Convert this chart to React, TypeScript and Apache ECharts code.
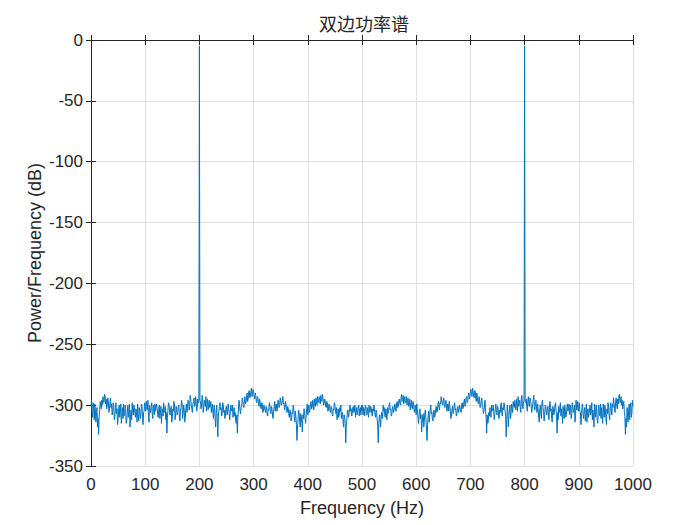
import React, { useEffect, useRef } from "react";
import * as echarts from "echarts";

const title = "双边功率谱";
const xName = "Frequency (Hz)";
const yName = "Power/Frequency (dB)";
const xTicks = { min: 0, max: 1000, step: 100 };
const yTicks = { min: -350, max: 0, step: 50 };

// one-sided half, 0..500 Hz: values at even Hz (0,2,...,500) and odd Hz (1,3,...,499)
const evenPower = [
  -301, -306, -298, -312, -304, -309, -318, -324, -305, -300,
  -296, -293, -298, -292, -295, -300, -297, -303, -294, -299,
  -305, -301, -309, -298, -303, -311, -300, -306, -315, -302,
  -299, -307, -303, -312, -300, -305, -318, -304, -298, -308,
  -302, -310, -306, -299, -313, -304, -308, -300, -316, -305,
  -301, -297, -304, -309, -300, -306, -298, -311, -303, -299,
  -305, -302, -310, -300, -307, -315, -303, -298, -306, -312,
  -323, -304, -300, -308, -301, -311, -305, -299, -309, -303,
  -306, -300, -313, -302, -298, -307, -304, -310, -299, -303,
  -297, -301, -295, -303, -299, -294, -300, -296, -302, -298,
  -5, -297, -300, -295, -302, -298, -293, -299, -304, -296,
  -301, -306, -299, -311, -303, -318, -300, -326, -305, -298,
  -302, -307, -300, -304, -309, -301, -306, -303, -312, -300,
  -305, -310, -302, -306, -315, -323, -304, -299, -307, -300,
  -296, -302, -293, -298, -290, -295, -288, -293, -286, -291,
  -289, -295, -292, -298, -294, -301, -297, -303, -299, -305,
  -300, -306, -302, -309, -304, -300, -307, -303, -311, -301,
  -305, -299, -303, -297, -301, -295, -299, -293, -298, -302,
  -300, -306, -303, -310, -305, -312, -307, -302, -314, -309,
  -329, -312, -306, -318, -309, -322, -311, -305, -315, -303,
  -308, -300, -304, -297, -302, -299, -295, -301, -296, -293,
  -298, -295, -292, -297, -294, -299, -296, -302, -298, -304,
  -300, -306, -302, -309, -304, -300, -307, -312, -303, -308,
  -305, -311, -306, -318, -309, -331, -312, -304, -308, -300,
  -303, -307, -301, -305, -310, -302, -306, -300, -304, -308,
  -305,
];

const oddPower = [
  -296, -310, -303, -299, -314, -302, -311, -309, -297, -303,
  -300, -297, -291, -299, -303, -294, -306, -298, -302, -308,
  -298, -312, -302, -307, -316, -304, -310, -299, -307, -311,
  -309, -300, -315, -305, -310, -299, -309, -312, -304, -300,
  -307, -303, -314, -307, -302, -311, -299, -309, -306, -298,
  -305, -302, -296, -314, -304, -302, -307, -300, -308, -305,
  -299, -308, -304, -311, -301, -306, -309, -304, -301, -306,
  -310, -298, -306, -303, -314, -303, -297, -312, -301, -308,
  -301, -309, -305, -296, -311, -300, -314, -303, -306, -296,
  -304, -292, -300, -306, -297, -301, -293, -305, -295, -297,
  -296, -303, -292, -306, -296, -301, -305, -295, -300, -302,
  -297, -302, -307, -300, -310, -305, -313, -309, -301, -304,
  -309, -298, -306, -311, -302, -308, -299, -307, -305, -304,
  -300, -306, -309, -313, -308, -310, -296, -305, -302, -294,
  -300, -297, -299, -294, -297, -289, -294, -289, -293, -287,
  -293, -290, -297, -293, -299, -295, -302, -298, -306, -300,
  -304, -301, -308, -303, -298, -306, -301, -309, -305, -297,
  -300, -305, -296, -302, -294, -300, -296, -299, -304, -297,
  -305, -301, -308, -304, -313, -306, -300, -309, -305, -316,
  -318, -304, -313, -307, -315, -308, -303, -312, -308, -299,
  -303, -306, -299, -303, -296, -304, -300, -294, -300, -297,
  -293, -299, -296, -291, -300, -295, -301, -297, -305, -299,
  -305, -301, -308, -303, -298, -305, -302, -307, -310, -302,
  -300, -307, -313, -308, -315, -317, -306, -310, -303, -305,
  -309, -302, -306, -300, -305, -308, -301, -309, -302, -300,
];

const halfPower: number[] = [];
evenPower.forEach((v, i) => {
  halfPower.push(v);
  if (i < oddPower.length) halfPower.push(oddPower[i]);
});
// two-sided spectrum of a real signal: mirror about 500 Hz
const fullPower = [
  ...halfPower,
  ...halfPower.slice(0, halfPower.length - 1).reverse(),
];
const seriesData = fullPower.map((v, i) => [i, v]);

const FONT = "'Liberation Sans', Arial, Helvetica, sans-serif";
const TXT = "#262626";
const GRID = "#dfdfdf";

export default function App() {
  const ref = useRef<HTMLDivElement>(null);
  useEffect(() => {
    if (!ref.current) return;
    const chart = echarts.init(ref.current, undefined, { renderer: "svg" });
    const axisCommon = {
      axisLine: { show: true, lineStyle: { color: TXT, width: 1 } },
      axisTick: { show: true, inside: true, length: 5, lineStyle: { color: TXT } },
    };
    chart.setOption({
      animation: false,
      backgroundColor: "#ffffff",
      title: {
        text: title,
        left: 359,
        top: 9,
        textAlign: "center",
        textStyle: {
          fontFamily: "'Noto Sans CJK SC', sans-serif",
          fontSize: 18,
          fontWeight: "normal",
          color: TXT,
        },
      },
      grid: { left: 91, right: 67, top: 40, bottom: 59, containLabel: false },
      xAxis: [
        {
          type: "value",
          min: xTicks.min,
          max: xTicks.max,
          interval: xTicks.step,
          name: xName,
          nameLocation: "middle",
          nameGap: 33,
          nameMoveOverlap: false,
          nameTextStyle: { fontFamily: FONT, fontSize: 18, color: TXT },
          ...axisCommon,
          axisLabel: {
            fontFamily: FONT,
            fontSize: 17,
            color: TXT,
            margin: 10,
            formatter: (v: number) => String(v),
          },
          splitLine: { show: true, lineStyle: { color: GRID, width: 1 } },
        },
        {
          type: "value",
          position: "top",
          min: xTicks.min,
          max: xTicks.max,
          interval: xTicks.step,
          ...axisCommon,
          axisLabel: { show: false },
          splitLine: { show: false },
        },
      ],
      yAxis: [
        {
          type: "value",
          min: yTicks.min,
          max: yTicks.max,
          interval: yTicks.step,
          name: yName,
          nameLocation: "middle",
          nameGap: 47,
          nameMoveOverlap: false,
          nameTextStyle: { fontFamily: FONT, fontSize: 18, color: TXT },
          ...axisCommon,
          axisLabel: { fontFamily: FONT, fontSize: 17, color: TXT, margin: 8 },
          splitLine: { show: true, lineStyle: { color: GRID, width: 1 } },
        },
        {
          type: "value",
          position: "right",
          min: yTicks.min,
          max: yTicks.max,
          interval: yTicks.step,
          ...axisCommon,
          axisLabel: { show: false },
          splitLine: { show: false },
        },
      ],
      series: [
        {
          type: "line",
          data: seriesData,
          showSymbol: false,
          symbol: "none",
          lineStyle: { color: "#0072BD", width: 1 },
          emphasis: { disabled: true },
        },
      ],
    });
    return () => chart.dispose();
  }, []);
  return (
    <div
      ref={ref}
      style={{ position: "fixed", left: 0, top: 0, width: 700, height: 525 }}
    />
  );
}
